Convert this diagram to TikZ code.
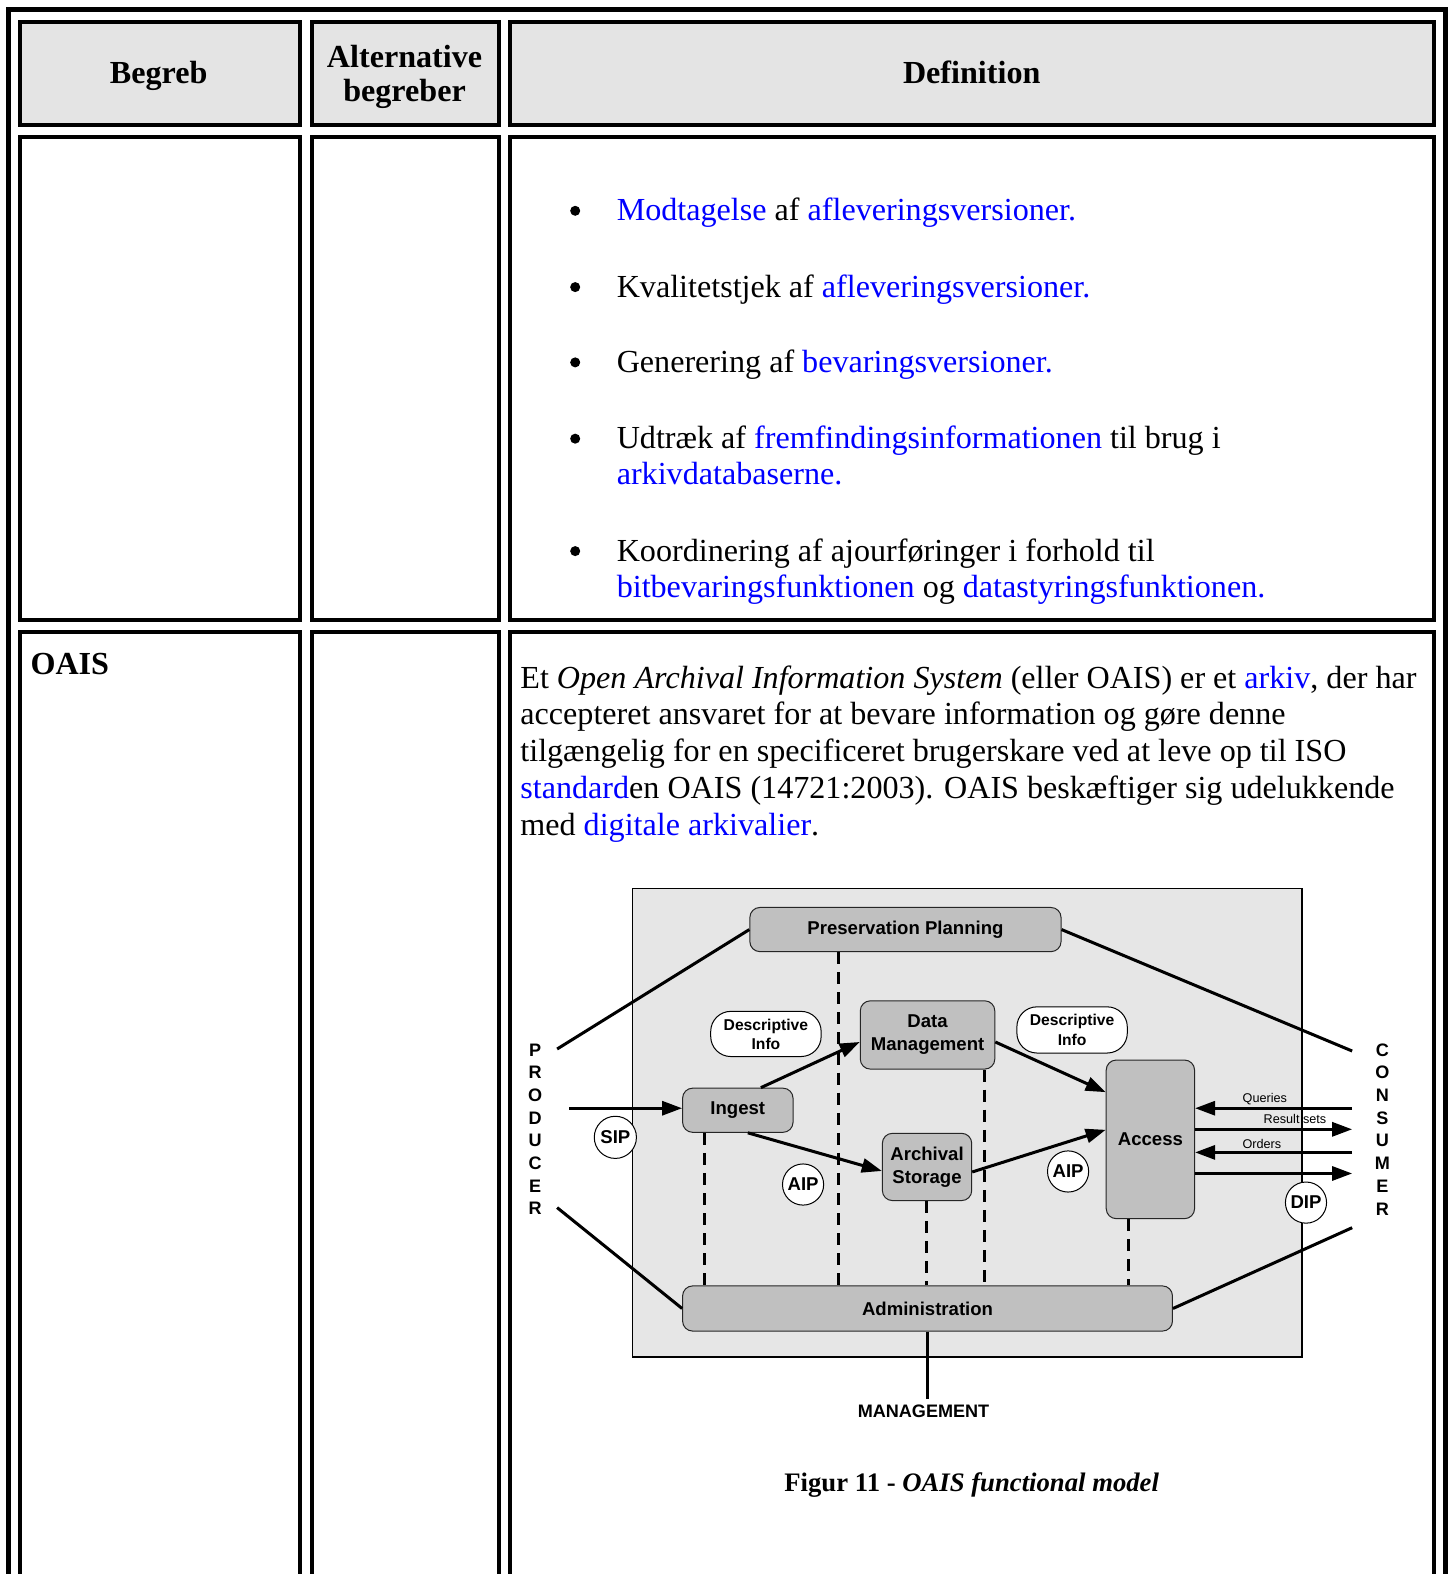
\documentclass[tikz,border=0pt]{standalone}
\usepackage{fontspec}
\setmainfont{Liberation Serif}
\newfontfamily\arial{Liberation Sans}
\usetikzlibrary{arrows.meta,calc,shapes.geometric}

\definecolor{hdrgray}{HTML}{E4E4E4}
\definecolor{panelgray}{HTML}{E6E6E6}
\definecolor{boxgray}{HTML}{C0C0C0}
\definecolor{linkblue}{HTML}{0000FF}
\newcommand{\lnk}[1]{\textcolor{linkblue}{#1}}

\tikzset{
  frame/.style={line width=2.5pt},
  cell/.style={line width=2pt},
  hdr/.style={inner sep=0pt, anchor=base, align=center, font=\fontsize{16}{17.75}\selectfont\bfseries},
  body/.style={inner sep=0pt, anchor=base west, font=\fontsize{16}{18}\selectfont},
  dot/.style={circle, fill=black, inner sep=0pt, minimum size=5pt},
  proc/.style={draw=black!85, line width=0.5pt, fill=boxgray, rounded corners=5pt,
    inner sep=0pt, align=center, font=\arial\bfseries\fontsize{9.25}{11.5}\selectfont},
  bubble/.style={rectangle, rounded corners=10pt, draw=black, fill=white, line width=0.5pt, inner sep=0pt},
  ring/.style={circle, draw=black, fill=white, line width=0.5pt, inner sep=0pt,
    minimum size=20.5pt, font=\arial\bfseries\fontsize{9.25}{11}\selectfont},
  bubtext/.style={inner sep=0pt, align=center, font=\arial\bfseries\fontsize{7.8}{9.5}\selectfont},
  side/.style={inner sep=0pt, align=center, font=\arial\bfseries\fontsize{9}{11.3}\selectfont},
  flowlbl/.style={inner sep=0pt, font=\arial\fontsize{6.3}{7.5}\selectfont},
  conn/.style={line width=1.5pt},
  tip/.style={-{Triangle[length=10pt,width=7pt]}},
  ctrl/.style={line width=1.5pt, dash pattern=on 6pt off 4pt},
}

\begin{document}
\begin{tikzpicture}[x=0.5pt, y=-0.5pt]
\useasboundingbox (0,0) rectangle (1447,1568);
\clip (0,0) rectangle (1447,1568);

% outer frame of the table
\draw[frame] (8,1600) -- (8,9.5) -- (1439.5,9.5) -- (1439.5,1600);

% header row
\draw[cell, fill=hdrgray] (20,21.5) rectangle (299,125);
\draw[cell, fill=hdrgray] (311,21.5) rectangle (497,125);
\draw[cell, fill=hdrgray] (508,21.5) rectangle (1429,125);
\node[hdr] (hBegreb) at (158,83) {Begreb};
\node[hdr] (hAlt1) at (403,67) {Alternative};
\node[hdr] (hAlt2) at (403,101.5) {begreber};
\node[hdr] (hDef) at (968,83) {Definition};

% second row
\draw[cell] (20,136.5) rectangle (299,617.5);
\draw[cell] (311,136.5) rectangle (497,617.5);
\draw[cell] (508,136.5) rectangle (1429,617.5);

\node[dot] (d1) at (573,210) {};
\node[body] (t1) at (614,220) {\lnk{Modtagelse} af \lnk{afleveringsversioner.}};
\node[dot] (d2) at (573,286) {};
\node[body] (t2) at (614,296) {Kvalitetstjek af \lnk{afleveringsversioner.}};
\node[dot] (d3) at (573,361) {};
\node[body] (t3) at (614,371) {Generering af \lnk{bevaringsversioner.}};
\node[dot] (d4) at (573,437) {};
\node[body] (t4a) at (614,447) {Udtræk af \lnk{fremfindingsinformationen} til brug i};
\node[body] (t4b) at (614,483) {\lnk{arkivdatabaserne.}};
\node[dot] (d5) at (573,549) {};
\node[body] (t5a) at (614,559) {Koordinering af ajourføringer i forhold til};
\node[body] (t5b) at (614,595) {\lnk{bitbevaringsfunktionen} og \lnk{datastyringsfunktionen.}};

% third row
\draw[cell] (20,1600) -- (20,630) -- (299,630) -- (299,1600);
\draw[cell] (311,1600) -- (311,630) -- (497,630) -- (497,1600);
\draw[cell] (508,1600) -- (508,630) -- (1429,630) -- (1429,1600);

\node[body, font=\fontsize{16}{18}\selectfont\bfseries] (oais) at (30,672) {OAIS};
\node[body] (p1) at (518,686) {Et \textit{Open Archival Information System} (eller OAIS) er et \lnk{arkiv}, der har};
\node[body] (p2) at (518,722) {accepteret ansvaret for at bevare information og gøre denne};
\node[body] (p3) at (518,759) {tilgængelig for en specificeret brugerskare ved at leve op til ISO};
\node[body] (p4) at (518,795) {\lnk{standard}en OAIS (14721:2003). OAIS beskæftiger sig udelukkende};
\node[body] (p5) at (518,832) {med \lnk{digitale arkivalier}.};

% functional model panel
\draw[fill=panelgray, line width=0.75pt] (630,885) rectangle (1297,1352);

\node[proc, minimum width=155pt, minimum height=22pt] (pp) at (902,926) {Preservation Planning};
\node[proc, minimum width=67pt, minimum height=34pt] (dm) at (924,1031) {Data\\Management};
\node[proc, minimum width=55pt, minimum height=22pt] (ing) at (735,1106) {Ingest};
\node[proc, minimum width=44.5pt, minimum height=33.5pt] (as) at (923.5,1162.5) {Archival\\Storage};
\node[proc, minimum width=44pt, minimum height=79pt] (acc) at (1146,1135) {Access};
\node[proc, minimum width=244pt, minimum height=22.5pt] (adm) at (924,1303.5) {Administration};

\node[bubble, minimum width=55pt, minimum height=22.5pt] (di1) at (763,1030) {};
\node[bubtext] (di1t) at (di1) {Descriptive\\Info};
\node[bubble, minimum width=55pt, minimum height=23pt] (di2) at (1068,1026) {};
\node[bubtext] (di2t) at (di2) {Descriptive\\Info};

\node[ring, minimum size=21pt] (sip) at (613,1133) {SIP};
\node[ring] (aip1) at (800,1180) {AIP};
\node[ring] (aip2) at (1064,1167) {AIP};
\node[ring] (dip) at (1301,1198) {DIP};

\node[side] (producer) at (533,1125) {P\\R\\O\\D\\U\\C\\E\\R};
\node[side] (consumer) at (1377,1125) {C\\O\\N\\S\\U\\M\\E\\R};
\node[side] (mgmt) at (920,1406) {MANAGEMENT};

% free ends of the connectors
\coordinate (prodTop) at (555,1045);
\coordinate (prodBot) at (555,1203);
\coordinate (consTop) at (1347,1047);
\coordinate (consBot) at (1347,1223);
\coordinate (sipIn) at (567,1104);
\coordinate (qEnd) at (1347,1104);
\coordinate (rEnd) at (1347,1125);
\coordinate (oEnd) at (1347,1148);
\coordinate (dEnd) at (1347,1169);
\coordinate (xA) at (702,0);
\coordinate (xB) at (835,0);
\coordinate (xC) at (981,0);
\coordinate (xD) at (1124,0);
\coordinate (xE) at (923,0);

% control lines to Administration
\draw[ctrl] (pp.south -| xB) -- (adm.north -| xB);
\draw[ctrl] (ing.south -| xA) -- (adm.north -| xA);
\draw[ctrl] (dm.south -| xC) -- (adm.north -| xC);
\draw[ctrl] (as.south -| xE) -- (adm.north -| xE);
\draw[ctrl] (acc.south -| xD) -- (adm.north -| xD);

% external links
\draw[conn] (prodTop) -- (pp.west);
\draw[conn] (pp.east) -- (consTop);
\draw[conn] (prodBot) -- (adm.west);
\draw[conn] (adm.east) -- (consBot);
\draw[conn] (adm.south) -- ($(adm.south |- mgmt.north)+(0,-6)$);

% information flows
\draw[conn, tip] (sipIn) -- (sipIn -| ing.west);
\draw[conn, tip] ([xshift=11.5pt]ing.north) -- ([yshift=-3.5pt]dm.west);
\draw[conn, tip] ([xshift=5pt]ing.south) -- ([yshift=-2pt]as.west);
\draw[conn, tip] ([yshift=-3.5pt]dm.east) -- ([yshift=23.5pt]acc.west);
\draw[conn, tip] ([yshift=-2.5pt]as.east) -- ([yshift=4.75pt]acc.west);

\draw[conn, tip] (qEnd) -- (qEnd -| acc.east);
\draw[conn, tip] (acc.east |- rEnd) -- (rEnd);
\draw[conn, tip] (oEnd) -- (oEnd -| acc.east);
\draw[conn, tip] (acc.east |- dEnd) -- (dEnd);
\node[flowlbl] (lq) at (1260,1094.5) {Queries};
\node[flowlbl] (lr) at (1290,1115) {Result sets};
\node[flowlbl] (lo) at (1257,1139.5) {Orders};

% caption
\node[inner sep=0pt, anchor=base, font=\fontsize{13.3}{15}\selectfont] (cap) at (968,1486)
  {\bfseries Figur 11 - \itshape OAIS functional model};
\end{tikzpicture}
\end{document}
